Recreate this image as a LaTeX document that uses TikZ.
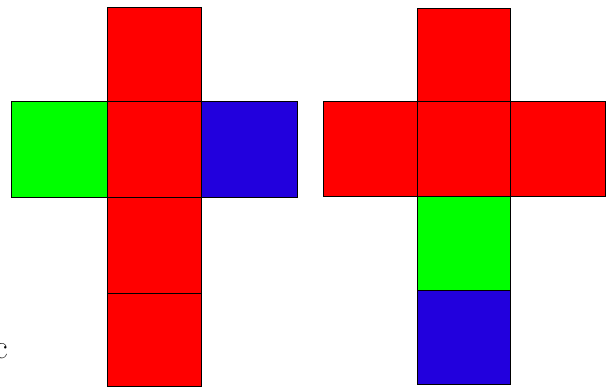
\documentclass[tikz,border=0pt]{standalone}
\definecolor{nred}{RGB}{255,0,0}
\definecolor{ngreen}{RGB}{0,255,0}
\definecolor{nblue}{RGB}{34,0,221}
\tikzset{face/.style={draw=black,line width=0.8pt}}
\begin{document}
\begin{tikzpicture}[x=1pt,y=-1pt]
\useasboundingbox (0,0) rectangle (615,387);
% left net
\fill[nred,face] (107,7) rectangle (201,101);
\fill[ngreen,face] (11,101) rectangle (107,197);
\fill[nred,face] (107,101) rectangle (201,197);
\fill[nblue,face] (201,101) rectangle (297,197);
\fill[nred,face] (107,197) rectangle (201,293);
\fill[nred,face] (107,293) rectangle (201,386);
% right net
\fill[nred,face] (417,8) rectangle (510,101);
\fill[nred,face] (323,101) rectangle (417,196);
\fill[nred,face] (417,101) rectangle (510,196);
\fill[nred,face] (510,101) rectangle (605,196);
\fill[ngreen,face] (417,196) rectangle (510,290);
\fill[nblue,face] (417,290) rectangle (510,384);
\node[anchor=base east,inner sep=0pt,font=\fontsize{34}{34}\selectfont] (c) at (8,358) {c};
\end{tikzpicture}
\end{document}
